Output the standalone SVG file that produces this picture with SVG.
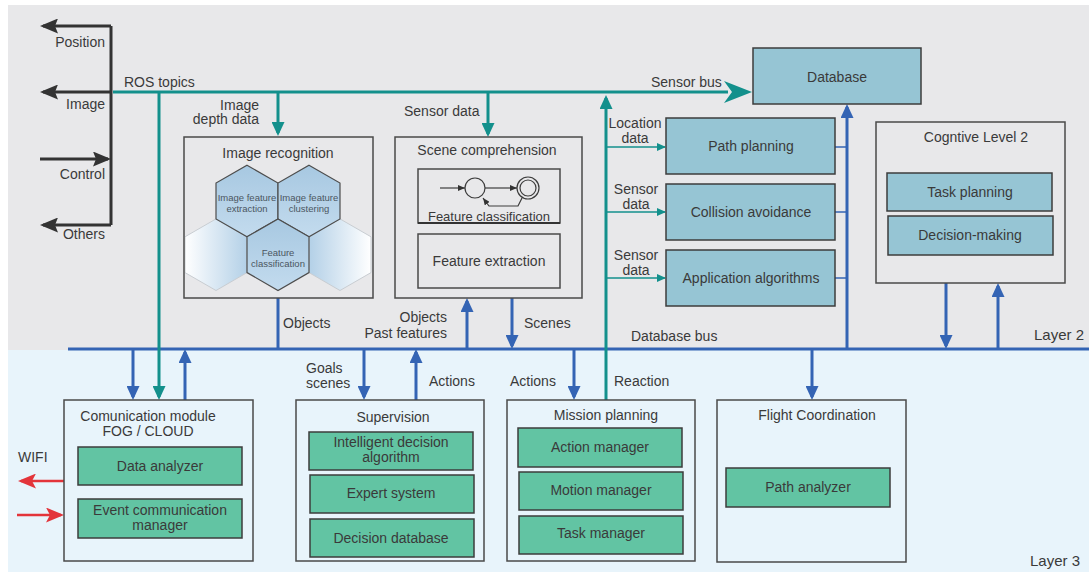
<svg xmlns="http://www.w3.org/2000/svg" width="1089" height="572" viewBox="0 0 1089 572">
  <style>
    .t { font-family: "Liberation Sans", Arial, sans-serif; font-size: 14px; fill: #3a3a3a; }
    .s { font-size: 13px; }
    .h { font-size: 9.5px; fill: #4b5661; }
    .l { font-size: 15px; }
    .c { text-anchor: middle; }
    .r { text-anchor: end; }
    .box { fill: none; stroke: #4a4a4a; stroke-width: 1.5; }
    .grn { fill: #62c4a3; stroke: #3c3c3c; stroke-width: 1.5; }
    .tb { fill: #96c5d4; stroke: #3c3c3c; stroke-width: 1.5; }
    .blue { stroke: #3464b4; stroke-width: 3; fill: none; }
    .bthin { stroke: #3464b4; stroke-width: 1.5; fill: none; }
    .teal { stroke: #13908c; stroke-width: 3; fill: none; }
    .tthin { stroke: #13908c; stroke-width: 1.5; fill: none; }
    .dark { stroke: #333333; stroke-width: 3; fill: none; }
    .red { stroke: #e3343a; stroke-width: 2.5; fill: none; }
    .hex { fill: url(#hexFill); stroke: #4d4d4d; stroke-width: 1.2; }
    .fsm { fill: none; stroke: #3c3c3c; stroke-width: 1.2; }
  </style>
  <defs>
    <marker id="aBlue" viewBox="0 0 14 13" refX="11" refY="6.5" markerWidth="14" markerHeight="13" markerUnits="userSpaceOnUse" orient="auto">
      <path d="M0,0 L14,6.5 L0,13 z" fill="#3464b4"/>
    </marker>
    <marker id="aTeal" viewBox="0 0 14 13" refX="11" refY="6.5" markerWidth="14" markerHeight="13" markerUnits="userSpaceOnUse" orient="auto">
      <path d="M0,0 L14,6.5 L0,13 z" fill="#13908c"/>
    </marker>
    <marker id="aTealS" viewBox="0 0 9 8" refX="8" refY="4" markerWidth="9" markerHeight="8" markerUnits="userSpaceOnUse" orient="auto">
      <path d="M0,0 L9,4 L0,8 z" fill="#13908c"/>
    </marker>
    <marker id="aDark" viewBox="0 0 18 15" refX="15" refY="7.5" markerWidth="18" markerHeight="15" markerUnits="userSpaceOnUse" orient="auto">
      <path d="M0,0 L18,7.5 L0,15 L3,7.5 z" fill="#333333"/>
    </marker>
    <marker id="aRed" viewBox="0 0 18 15" refX="15" refY="7.5" markerWidth="18" markerHeight="15" markerUnits="userSpaceOnUse" orient="auto">
      <path d="M0,0 L18,7.5 L0,15 L4,7.5 z" fill="#e3343a"/>
    </marker>
    <marker id="aFsm" viewBox="0 0 7 6" refX="7" refY="3" markerWidth="7" markerHeight="6" markerUnits="userSpaceOnUse" orient="auto">
      <path d="M0,0 L7,3 L0,6 z" fill="#333333"/>
    </marker>
    <linearGradient id="hexFill" x1="0" y1="0" x2="0" y2="1">
      <stop offset="0" stop-color="#a7c8e1"/>
      <stop offset="1" stop-color="#c3dbee"/>
    </linearGradient>
    <linearGradient id="fadeL" x1="0" y1="0" x2="1" y2="0">
      <stop offset="0" stop-color="#ffffff"/>
      <stop offset="1" stop-color="#b3d0e7"/>
    </linearGradient>
    <linearGradient id="fadeR" x1="0" y1="0" x2="1" y2="0">
      <stop offset="0" stop-color="#b3d0e7"/>
      <stop offset="1" stop-color="#ffffff"/>
    </linearGradient>
    <clipPath id="irClip">
      <rect x="185" y="138" width="187" height="159"/>
    </clipPath>
  </defs>

  <!-- layer backgrounds -->
  <rect x="8" y="5" width="1081" height="345" fill="#e8e8ea"/>
  <rect x="8" y="350" width="1081" height="222" fill="#e8f4fb"/>
  <text class="t l" x="1034" y="340">Layer 2</text>
  <text class="t l" x="1030" y="566">Layer 3</text>

  <!-- connectors -->
  <g id="connectors">
    <!-- output / control topics -->
    <path class="dark" d="M111,26 V225"/>
    <path class="dark" d="M111,26 H43" marker-end="url(#aDark)"/>
    <path class="dark" d="M111,92 H43" marker-end="url(#aDark)"/>
    <path class="dark" d="M40,159 H108" marker-end="url(#aDark)"/>
    <path class="dark" d="M111,225 H43" marker-end="url(#aDark)"/>

    <!-- database bus -->
    <path class="blue" d="M68,349 H1089" stroke-width="3.5"/>
    <path class="blue" d="M278,298 V349"/>
    <path class="blue" d="M467,349 V301" marker-end="url(#aBlue)"/>
    <path class="blue" d="M512,298 V346" marker-end="url(#aBlue)"/>
    <path class="blue" d="M847,349 V107" marker-end="url(#aBlue)"/>
    <path class="bthin" d="M835,147 H847 M835,212 H847 M835,278 H847"/>
    <path class="blue" d="M946,283 V346" marker-end="url(#aBlue)"/>
    <path class="blue" d="M998,349 V286" marker-end="url(#aBlue)"/>
    <path class="blue" d="M133,349 V397" marker-end="url(#aBlue)"/>
    <path class="blue" d="M185,400 V352" marker-end="url(#aBlue)"/>
    <path class="blue" d="M364,349 V397" marker-end="url(#aBlue)"/>
    <path class="blue" d="M416,400 V352" marker-end="url(#aBlue)"/>
    <path class="blue" d="M574,349 V397" marker-end="url(#aBlue)"/>
    <path class="blue" d="M812,349 V397" marker-end="url(#aBlue)"/>

    <!-- ROS topics / sensor bus -->
    <path class="teal" d="M113,92 H728"/>
    <polygon points="752,92 724,81 732,92 724,103" fill="#13908c"/>
    <path class="teal" d="M159,92 V397" marker-end="url(#aTeal)"/>
    <path class="teal" d="M278,92 V133" marker-end="url(#aTeal)"/>
    <path class="teal" d="M488,92 V134" marker-end="url(#aTeal)"/>
    <path class="teal" d="M606,400 V98" marker-end="url(#aTeal)"/>
    <path class="tthin" d="M606,147 H665" marker-end="url(#aTealS)"/>
    <path class="tthin" d="M606,212 H665" marker-end="url(#aTealS)"/>
    <path class="tthin" d="M606,278 H665" marker-end="url(#aTealS)"/>

    <!-- WIFI link -->
    <path class="red" d="M64,481 H21" marker-end="url(#aRed)"/>
    <path class="red" d="M17,515 H61" marker-end="url(#aRed)"/>
  </g>

  <!-- connector labels -->
  <g id="labels">
    <text class="t r" x="105" y="47">Position</text>
    <text class="t r" x="105" y="109">Image</text>
    <text class="t r" x="105" y="179">Control</text>
    <text class="t r" x="105" y="239">Others</text>
    <text class="t" x="124" y="87">ROS topics</text>
    <text class="t r" x="259" y="110">Image</text>
    <text class="t r" x="259" y="124">depth data</text>
    <text class="t" x="404" y="116">Sensor data</text>
    <text class="t" x="651" y="87">Sensor bus</text>
    <text class="t c" x="635" y="128">Location</text>
    <text class="t c" x="635" y="143">data</text>
    <text class="t c" x="636" y="194">Sensor</text>
    <text class="t c" x="636" y="209">data</text>
    <text class="t c" x="636" y="260">Sensor</text>
    <text class="t c" x="636" y="275">data</text>
    <text class="t" x="283" y="328">Objects</text>
    <text class="t r" x="447" y="322">Objects</text>
    <text class="t r" x="447" y="338">Past features</text>
    <text class="t" x="524" y="328">Scenes</text>
    <text class="t" x="631" y="341">Database bus</text>
    <text class="t" x="18" y="462">WIFI</text>
    <text class="t" x="306" y="373">Goals</text>
    <text class="t" x="306" y="388">scenes</text>
    <text class="t" x="429" y="386">Actions</text>
    <text class="t" x="510" y="386">Actions</text>
    <text class="t" x="614" y="386">Reaction</text>
  </g>

  <!-- Image recognition -->
  <g id="image-recognition">
    <rect class="box" x="184" y="137" width="189" height="161"/>
    <text class="t c" x="278" y="158">Image recognition</text>
    <g clip-path="url(#irClip)">
      <polygon points="216,218.9 247,236.8 247,272.6 216,290.5 185,272.6 185,236.8" fill="url(#fadeL)" stroke="#c8cdd2" stroke-width="1"/>
      <polygon points="340,218.9 371,236.8 371,272.6 340,290.5 309,272.6 309,236.8" fill="url(#fadeR)" stroke="#c8cdd2" stroke-width="1"/>
    </g>
    <polygon class="hex" points="247,165.2 278,183.1 278,218.9 247,236.8 216,218.9 216,183.1"/>
    <polygon class="hex" points="309,165.2 340,183.1 340,218.9 309,236.8 278,218.9 278,183.1"/>
    <polygon class="hex" points="278,218.9 309,236.8 309,272.6 278,290.5 247,272.6 247,236.8"/>
    <text class="t h c" x="247" y="201">Image feature</text>
    <text class="t h c" x="247" y="212">extraction</text>
    <text class="t h c" x="309" y="201">Image feature</text>
    <text class="t h c" x="309" y="212">clustering</text>
    <text class="t h c" x="278" y="256">Feature</text>
    <text class="t h c" x="278" y="267">classification</text>
  </g>

  <!-- Scene comprehension -->
  <g id="scene-comprehension">
    <rect class="box" x="395" y="137" width="187" height="161"/>
    <text class="t c" x="487" y="155">Scene comprehension</text>
    <rect class="box" x="418" y="169" width="142" height="54"/>
    <path d="M418,223 H560" stroke="#333" stroke-width="2"/>
    <path class="fsm" d="M440,188 H465" marker-end="url(#aFsm)"/>
    <circle class="fsm" cx="475" cy="188" r="10"/>
    <path class="fsm" d="M485,188 H517" marker-end="url(#aFsm)"/>
    <circle class="fsm" cx="528" cy="188" r="11"/>
    <circle class="fsm" cx="528" cy="188" r="8"/>
    <path class="fsm" d="M522,198 L518,206 H489 L483,198" marker-end="url(#aFsm)"/>
    <text class="t s c" x="489" y="221">Feature classification</text>
    <rect class="box" x="418" y="234" width="142" height="54"/>
    <text class="t c" x="489" y="266">Feature extraction</text>
  </g>

  <!-- Database -->
  <g id="database">
    <rect class="tb" x="753" y="48" width="168" height="56"/>
    <text class="t c" x="837" y="82">Database</text>
  </g>

  <!-- Level 1 algorithms -->
  <g id="path-planning">
    <rect class="tb" x="666" y="118" width="169" height="56"/>
    <text class="t c" x="751" y="151">Path planning</text>
  </g>
  <g id="collision-avoidance">
    <rect class="tb" x="666" y="184" width="169" height="56"/>
    <text class="t c" x="751" y="217">Collision avoidance</text>
  </g>
  <g id="application-algorithms">
    <rect class="tb" x="666" y="250" width="169" height="56"/>
    <text class="t c" x="751" y="283">Application algorithms</text>
  </g>

  <!-- Cognitive level 2 -->
  <g id="cognitive-level-2">
    <rect class="box" x="876" y="122" width="189" height="161"/>
    <text class="t c" x="976" y="142">Cogntive Level 2</text>
    <rect class="tb" x="887" y="173" width="165" height="38"/>
    <text class="t c" x="970" y="197">Task planning</text>
    <rect class="tb" x="888" y="216" width="165" height="39"/>
    <text class="t c" x="970" y="240">Decision-making</text>
  </g>

  <!-- Communication module -->
  <g id="communication-module">
    <rect class="box" x="64" y="400" width="189" height="161"/>
    <text class="t c" x="148" y="421">Comunication module</text>
    <text class="t c" x="148" y="436">FOG / CLOUD</text>
    <rect class="grn" x="78" y="447" width="164" height="38"/>
    <text class="t c" x="160" y="471">Data analyzer</text>
    <rect class="grn" x="78" y="499" width="164" height="39"/>
    <text class="t c" x="160" y="515">Event communication</text>
    <text class="t c" x="160" y="530">manager</text>
  </g>

  <!-- Supervision -->
  <g id="supervision">
    <rect class="box" x="296" y="400" width="188" height="161"/>
    <text class="t c" x="393" y="422">Supervision</text>
    <rect class="grn" x="309" y="432" width="164" height="38"/>
    <text class="t c" x="391" y="447">Intelligent decision</text>
    <text class="t c" x="391" y="462">algorithm</text>
    <rect class="grn" x="310" y="475" width="164" height="38"/>
    <text class="t c" x="391" y="498">Expert system</text>
    <rect class="grn" x="310" y="519" width="164" height="38"/>
    <text class="t c" x="391" y="543">Decision database</text>
  </g>

  <!-- Mission planning -->
  <g id="mission-planning">
    <rect class="box" x="507" y="400" width="188" height="161"/>
    <text class="t c" x="606" y="420">Mission planning</text>
    <rect class="grn" x="518" y="428" width="164" height="39"/>
    <text class="t c" x="600" y="452">Action manager</text>
    <rect class="grn" x="519" y="472" width="164" height="38"/>
    <text class="t c" x="601" y="495">Motion manager</text>
    <rect class="grn" x="519" y="516" width="164" height="38"/>
    <text class="t c" x="601" y="538">Task manager</text>
  </g>

  <!-- Flight coordination -->
  <g id="flight-coordination">
    <rect class="box" x="717" y="400" width="189" height="162"/>
    <text class="t c" x="817" y="420">Flight Coordination</text>
    <rect class="grn" x="726" y="468" width="164" height="39"/>
    <text class="t c" x="808" y="492">Path analyzer</text>
  </g>
</svg>
